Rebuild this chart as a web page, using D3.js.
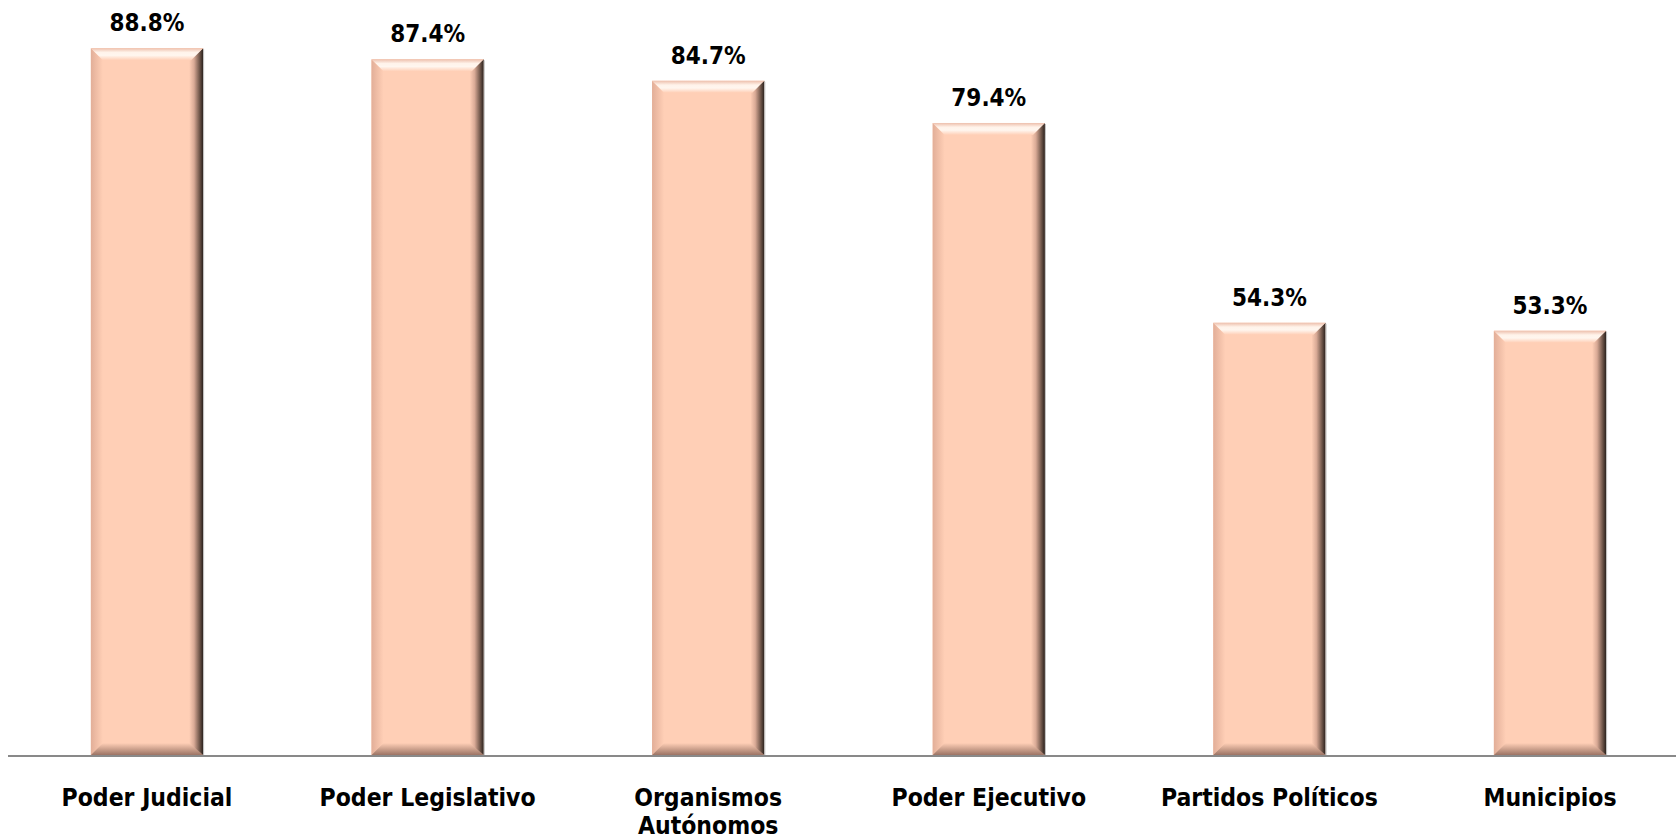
<!DOCTYPE html>
<html><head><meta charset="utf-8">
<script src="https://cdn.jsdelivr.net/npm/d3@7"></script>
<style>
html,body{margin:0;padding:0;background:#fff;}
svg{display:block;}
text{font-family:"DejaVu Sans Condensed","DejaVu Sans",sans-serif;font-stretch:condensed;font-weight:bold;fill:#000;}
</style></head>
<body>
<svg id="chart" width="1676" height="840"></svg>
<script>
const categories = ["Poder Judicial", "Poder Legislativo", "Organismos\nAutónomos", "Poder Ejecutivo", "Partidos Políticos", "Municipios"];
const values = [88.8, 87.4, 84.7, 79.4, 54.3, 53.3];
const valueLabels = ["88.8%", "87.4%", "84.7%", "79.4%", "54.3%", "53.3%"];

const W = 1676, H = 840;
const svg = d3.select("#chart");
const x = d3.scaleBand().domain(categories).range([6.7, 1690.3]).paddingInner(0.6).paddingOuter(0.3);
const y = d3.scaleLinear().domain([0, 100]).range([755, -41]);

const defs = svg.append("defs");
function grad(id, x2, y2, stops) {
  const g = defs.append("linearGradient").attr("id", id)
    .attr("x1", 0).attr("y1", 0).attr("x2", x2).attr("y2", y2);
  stops.forEach(s => g.append("stop").attr("offset", s[0]).attr("stop-color", s[1]));
}
const base = "#FFCFB6";
grad("gTop", 0, 1, [[0, "#EDBFAC"], [0.35, "#FFF3EA"], [0.6, "#FFF6EF"], [1, base]]);
grad("gLeft", 1, 0, [[0, "#E2AE98"], [1, base]]);
grad("gRight", 1, 0, [[0, base], [0.35, "#D9AA96"], [0.75, "#6E5549"], [1, "#2A211D"]]);
grad("gBottom", 0, 1, [[0, base], [1, "#9C7465"]]);

const b = 12;
const bars = svg.append("g").selectAll("g").data(values).join("g");
bars.each(function(v, i) {
  const g = d3.select(this);
  const x0 = x(categories[i]), w = x.bandwidth();
  const y0 = y(v), h = y(0) - y(v);
  const pts = a => a.map(p => p.join(",")).join(" ");
  g.append("rect").attr("x", x0).attr("y", y0).attr("width", w).attr("height", h).attr("fill", base);
  g.append("polygon").attr("points", pts([[x0, y0], [x0 + b, y0 + b], [x0 + b, y0 + h - b], [x0, y0 + h]])).attr("fill", "url(#gLeft)");
  g.append("polygon").attr("points", pts([[x0, y0 + h], [x0 + w, y0 + h], [x0 + w - b, y0 + h - b], [x0 + b, y0 + h - b]])).attr("fill", "url(#gBottom)");
  g.append("polygon").attr("points", pts([[x0 + w, y0], [x0 + w, y0 + h], [x0 + w - b - 2, y0 + h - b], [x0 + w - b - 2, y0 + b]])).attr("fill", "url(#gRight)");
  g.append("polygon").attr("points", pts([[x0, y0], [x0 + w, y0], [x0 + w - b, y0 + b], [x0 + b, y0 + b]])).attr("fill", "url(#gTop)");
  g.append("line").attr("x1", x0 + w + 0.5).attr("x2", x0 + w + 0.5).attr("y1", y0 + 1).attr("y2", y0 + h)
    .attr("stroke", "#BDBDBD").attr("stroke-width", 1);
});

// axis line
svg.append("line").attr("x1", 8).attr("x2", W).attr("y1", y(0) + 1).attr("y2", y(0) + 1)
  .attr("stroke", "#898989").attr("stroke-width", 2);

// value labels
svg.append("g").selectAll("text").data(values).join("text")
  .attr("x", (d, i) => x(categories[i]) + x.bandwidth() / 2)
  .attr("y", d => y(d) - 17)
  .attr("text-anchor", "middle").attr("font-size", 24)
  .text((d, i) => valueLabels[i]);

// category labels
const cl = svg.append("g").selectAll("text").data(categories).join("text")
  .attr("x", d => x(d) + x.bandwidth() / 2)
  .attr("y", 806)
  .attr("text-anchor", "middle").attr("font-size", 24.5);
cl.each(function(d) {
  const t = d3.select(this);
  d.split("\n").forEach((line, k) => {
    t.append("tspan").attr("x", x(d) + x.bandwidth() / 2).attr("dy", k === 0 ? 0 : 28).text(line);
  });
});
</script>
</body></html>
